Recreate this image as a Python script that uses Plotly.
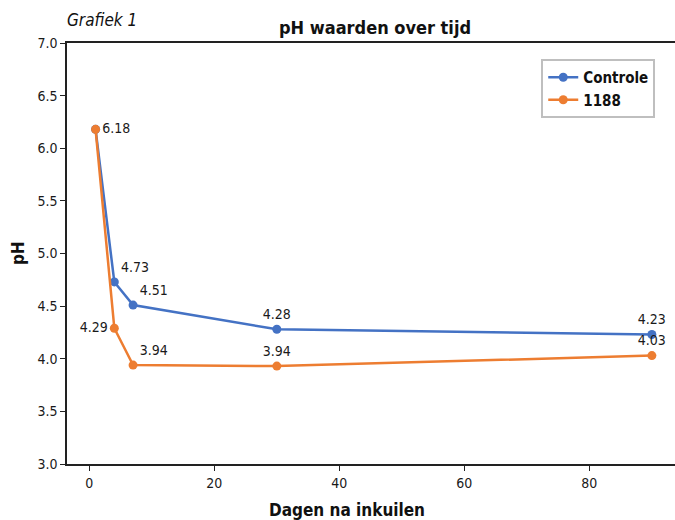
import plotly.graph_objects as go

days = [1, 4, 7, 30, 90]
controle = [6.18, 4.73, 4.51, 4.28, 4.23]
s1188 = [6.18, 4.29, 3.94, 3.93, 4.03]
controle_labels = ["", "4.73", "4.51", "4.28", "4.23"]
s1188_labels = ["6.18", "4.29", "3.94", "3.94", "4.03"]
x_ticks = [0, 20, 40, 60, 80]
y_ticks = [3.0, 3.5, 4.0, 4.5, 5.0, 5.5, 6.0, 6.5, 7.0]

FONT = "DejaVu Sans Condensed, Liberation Sans Narrow, sans-serif"
BLUE = "#4472C4"
ORANGE = "#ED7D31"

fig = go.Figure()
fig.add_trace(go.Scatter(
    x=days, y=controle, name="<b>Controle</b>", mode="lines+markers+text",
    line=dict(color=BLUE, width=2.5), marker=dict(color=BLUE, size=9),
    text=controle_labels,
    textposition=["top right", "top right", "top right", "top center", "top center"],
    textfont=dict(size=14, color="#1a1a1a", family=FONT),
    cliponaxis=False,
))
fig.add_trace(go.Scatter(
    x=days, y=s1188, name="<b>1188</b>", mode="lines+markers+text",
    line=dict(color=ORANGE, width=2.5), marker=dict(color=ORANGE, size=9),
    text=s1188_labels,
    textposition=["middle right", "middle left", "top right", "top center", "top center"],
    textfont=dict(size=14, color="#1a1a1a", family=FONT),
    cliponaxis=False,
))

fig.update_layout(
    width=675, height=520,
    margin=dict(l=67, r=0, t=43, b=56, autoexpand=False),
    paper_bgcolor="white", plot_bgcolor="white",
    font=dict(family=FONT, size=14, color="#1a1a1a"),
    showlegend=True,
    legend=dict(x=0.78, y=0.962, xanchor="left", yanchor="top",
                bordercolor="#BFBFBF", borderwidth=2, bgcolor="white",
                font=dict(size=15, family=FONT, color="#111"),
                itemwidth=30, tracegroupgap=2),
    annotations=[
        dict(text="<b>pH waarden over tijd</b>", xref="paper", yref="paper",
             x=0.5066, y=1.038, xanchor="center", yanchor="middle",
             showarrow=False, font=dict(size=18, family=FONT, color="#111")),
        dict(text="<i>Grafiek 1</i>", xref="paper", yref="paper",
             x=-0.003, y=1.055, xanchor="left", yanchor="middle",
             showarrow=False, font=dict(size=17, family=FONT, color="#111")),
        dict(text="<b>Dagen na inkuilen</b>", xref="paper", yref="paper",
             x=0.4605, y=-0.109, xanchor="center", yanchor="middle",
             showarrow=False, font=dict(size=17, family=FONT, color="#111")),
        dict(text="<b>pH</b>", xref="paper", yref="paper", textangle=-90,
             x=-0.0806, y=0.501, xanchor="center", yanchor="middle",
             showarrow=False, font=dict(size=17, family=FONT, color="#111")),
    ],
)
fig.update_xaxes(
    range=[-3.57, 93.7], tickvals=x_ticks, ticks="outside", ticklen=5,
    tickcolor="#222", showline=True, linecolor="#222", linewidth=1.5, mirror=True,
    showgrid=False, zeroline=False, automargin=False,
    tickfont=dict(size=14, family=FONT, color="#1a1a1a"),
)
fig.update_yaxes(
    range=[3.0, 7.0], tickvals=y_ticks, tickformat=".1f", ticks="outside", ticklen=5,
    tickcolor="#222", showline=True, linecolor="#222", linewidth=1.5,
    showgrid=False, zeroline=False, automargin=False,
    tickfont=dict(size=14, family=FONT, color="#1a1a1a"),
)

fig.write_html(
    "out.html",
    config={"displayModeBar": False},
    post_script="document.body.style.margin='0';document.body.style.overflow='hidden';",
)
